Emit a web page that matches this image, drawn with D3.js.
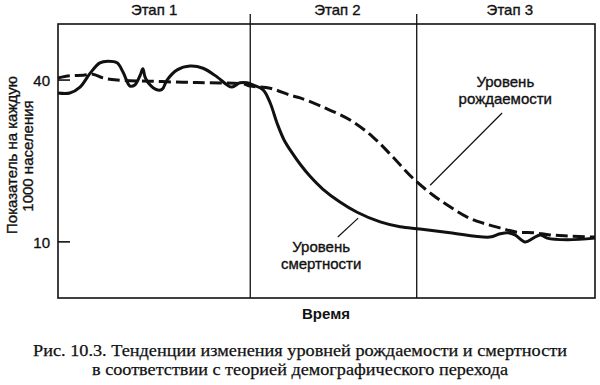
<!DOCTYPE html>
<html>
<head>
<meta charset="utf-8">
<script src="https://cdn.jsdelivr.net/npm/d3@7"></script>
<style>
  body { margin: 0; background: #fff; }
  svg { display: block; }
</style>
</head>
<body>
<div id="chart"></div>
<script>
// time runs 0..100 (arbitrary units), rate per 1000 population
const stageNames = ["Этап 1", "Этап 2", "Этап 3"];
const stageBreaks = [35.8, 66.8];
const yTicks = [10, 40];

const birthT = [0, 2.2, 4.7, 6.5, 8.4, 11.0, 17.1, 23.3, 28.3, 34.5, 35.8, 39.5, 43.2, 45.1, 49.3,
  54.4, 58.7, 62.4, 66.1, 69.8, 73.0, 76.2, 79.1, 82.3, 85.5, 88.5, 91.6, 94.8, 100];
const birthV = [40.3, 40.7, 40.8, 41.0, 40.3, 39.9, 39.7, 39.5, 39.4, 39.2, 38.8, 38.4, 37.1, 36.6, 34.9,
  32.5, 29.3, 25.6, 21.7, 18.6, 16.4, 14.5, 13.4, 12.5, 11.7, 11.6, 11.2, 11.0, 10.8];

const deathT = [0, 2.2, 4.1, 6.0, 7.8, 9.3, 11.0, 12.1, 13.4, 14.3, 15.3, 15.8, 16.2, 16.8, 18.4, 19.4,
  20.3, 22.2, 24.6, 27.0, 29.6, 31.5, 32.4, 33.9, 35.2, 36.3, 38.2, 39.5, 40.8, 42.1, 43.6, 45.1, 46.9,
  49.3, 52.5, 55.7, 60.0, 63.7, 67.4, 73.0, 80.4, 82.3, 83.8, 85.1, 87.0, 88.5, 89.8, 91.1, 94.8, 100];
const deathV = [37.5, 37.5, 38.6, 41.2, 43.1, 43.4, 43.1, 41.4, 38.8, 39.0, 40.8, 42.0, 40.5, 39.4, 38.1, 38.2,
  39.9, 41.8, 42.5, 42.1, 40.5, 39.0, 38.6, 39.4, 39.4, 39.0, 38.1, 35.7, 31.9, 28.8, 26.4, 24.3, 22.1,
  19.7, 17.3, 15.4, 13.6, 12.7, 12.3, 11.6, 10.8, 11.4, 11.6, 11.2, 9.9, 10.6, 11.2, 10.6, 10.3, 10.6];

// curve labels: two text lines and a leader line from [t,v] to [t,v]
const birthLabel = ["Уровень", "рождаемости"];
const deathLabel = ["Уровень", "смертности"];

const caption = [
  "Рис. 10.3. Тенденции изменения уровней рождаемости и смертности",
  "в соответствии с теорией демографического перехода"
];

const width = 600, height = 385;
const plotL = 58, plotR = 595, plotT = 24, plotB = 298;
const ink = "#111";

const svg = d3.select("#chart")
  .append("svg")
  .attr("width", width)
  .attr("height", height)
  .style("font-family", "'Liberation Sans', Arial, sans-serif")
  .style("fill", ink);

const x = d3.scaleLinear().domain([0, 100]).range([plotL, plotR]);
const y = d3.scaleLinear().domain([-0.5, 50.3]).range([plotB, plotT]);

// scanned print looks a bit heavier than plain regular
function heavy(sel, w) {
  sel.attr("stroke", ink).attr("stroke-width", w).attr("paint-order", "stroke");
}

// frame
svg.append("rect")
  .attr("x", plotL)
  .attr("y", plotT)
  .attr("width", plotR - plotL)
  .attr("height", plotB - plotT)
  .attr("fill", "none")
  .attr("stroke", ink)
  .attr("stroke-width", 1.6);

// stage dividers, poking above the frame
svg.selectAll(".divider")
  .data(stageBreaks)
  .join("line")
  .attr("class", "divider")
  .attr("x1", d => x(d))
  .attr("x2", d => x(d))
  .attr("y1", plotT - 10)
  .attr("y2", plotB)
  .attr("stroke", ink)
  .attr("stroke-width", 1.3);

const edges = [0, ...stageBreaks, 100];
svg.selectAll(".stage")
  .data(stageNames)
  .join("text")
  .attr("class", "stage")
  .attr("x", (d, i) => x((edges[i] + edges[i + 1]) / 2) + (i > 0 ? 4 : 0))
  .attr("y", 15)
  .attr("text-anchor", "middle")
  .style("font-size", "15px")
  .text(d => d)
  .call(heavy, 0.35);

// y axis, ticks inward
const yAxis = svg.append("g")
  .attr("transform", `translate(${plotL},0)`)
  .call(d3.axisLeft(y).tickValues(yTicks).tickSizeInner(-12).tickSizeOuter(0).tickPadding(8));
yAxis.select(".domain").remove();
yAxis.selectAll(".tick line").attr("stroke", ink).attr("stroke-width", 1.6);
yAxis.selectAll(".tick text")
  .attr("fill", ink)
  .style("font-size", "15px")
  .style("font-family", "'Liberation Sans', Arial, sans-serif")
  .attr("dy", "0.4em")
  .call(heavy, 0.35);

// y label, two rotated lines
svg.append("text")
  .attr("transform", "translate(17,155) rotate(-90)")
  .attr("text-anchor", "middle")
  .style("font-size", "15px")
  .text("Показатель на каждую")
  .call(heavy, 0.35);
svg.append("text")
  .attr("transform", "translate(33,156) rotate(-90)")
  .attr("text-anchor", "middle")
  .style("font-size", "15px")
  .text("1000 населения")
  .call(heavy, 0.35);

// x label
svg.append("text")
  .attr("x", 326)
  .attr("y", 319)
  .attr("text-anchor", "middle")
  .style("font-size", "15px")
  .style("font-weight", "bold")
  .text("Время");

const line = d3.line()
  .x(d => x(d[0]))
  .y(d => y(d[1]))
  .curve(d3.curveCatmullRom.alpha(0.5));

svg.append("path")
  .datum(d3.zip(birthT, birthV))
  .attr("d", line)
  .attr("fill", "none")
  .attr("stroke", ink)
  .attr("stroke-width", 3)
  .attr("stroke-dasharray", "12,5");

svg.append("path")
  .datum(d3.zip(deathT, deathV))
  .attr("d", line)
  .attr("fill", "none")
  .attr("stroke", ink)
  .attr("stroke-width", 3);

// labels with leader lines
const labels = [
  { lines: birthLabel, at: [83.3, 38.6], from: [82.7, 33.8], to: [69.3, 20.4] },
  { lines: deathLabel, at: [49.0, 8.1], from: [55.9, 14.3], to: [52.1, 10.8] }
];

labels.forEach(l => {
  svg.append("line")
    .attr("x1", x(l.from[0]))
    .attr("y1", y(l.from[1]))
    .attr("x2", x(l.to[0]))
    .attr("y2", y(l.to[1]))
    .attr("stroke", ink)
    .attr("stroke-width", 1.2);

  svg.append("text")
    .attr("x", x(l.at[0]))
    .attr("y", y(l.at[1]))
    .attr("text-anchor", "middle")
    .style("font-size", "15px")
    .call(heavy, 0.35)
    .selectAll("tspan")
    .data(l.lines)
    .join("tspan")
    .attr("x", x(l.at[0]))
    .attr("dy", (d, i) => i === 0 ? 0 : 17)
    .text(d => d);
});

// caption
svg.selectAll(".caption")
  .data(caption)
  .join("text")
  .attr("class", "caption")
  .attr("x", 300)
  .attr("y", (d, i) => 356 + i * 19)
  .attr("text-anchor", "middle")
  .attr("textLength", (d, i) => i === 0 ? 534 : 416)
  .attr("lengthAdjust", "spacingAndGlyphs")
  .style("font-family", "'Liberation Serif', 'Times New Roman', serif")
  .style("font-size", "17px")
  .text(d => d)
  .call(heavy, 0.25);
</script>
</body>
</html>
